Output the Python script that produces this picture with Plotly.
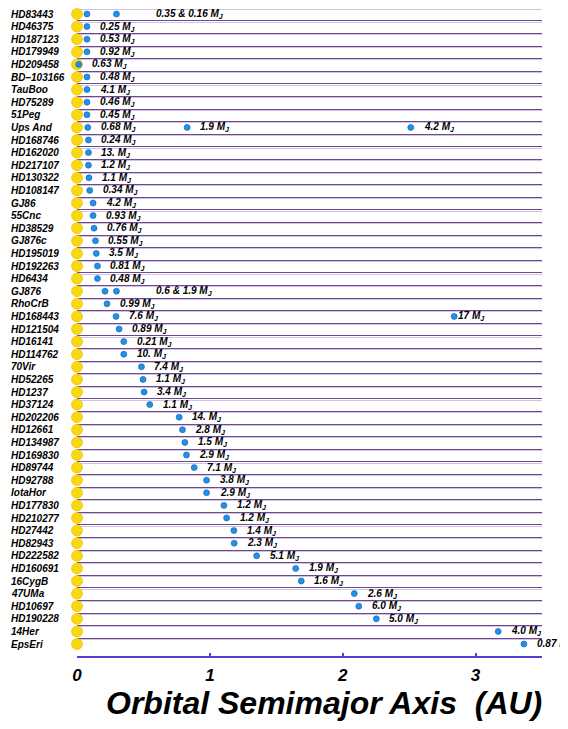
import plotly.graph_objects as go

# ---------------- data ----------------
stars = ["HD83443", "HD46375", "HD187123", "HD179949", "HD209458", "BD–103166",
         "TauBoo", "HD75289", "51Peg", "Ups And", "HD168746", "HD162020",
         "HD217107", "HD130322", "HD108147", "GJ86", "55Cnc", "HD38529",
         "GJ876c", "HD195019", "HD192263", "HD6434", "GJ876", "RhoCrB",
         "HD168443", "HD121504", "HD16141", "HD114762", "70Vir", "HD52265",
         "HD1237", "HD37124", "HD202206", "HD12661", "HD134987", "HD169830",
         "HD89744", "HD92788", "IotaHor", "HD177830", "HD210277", "HD27442",
         "HD82943", "HD222582", "HD160691", "16CygB", "47UMa", "HD10697",
         "HD190228", "14Her", "EpsEri"]

# orbital semimajor axis (AU) of each planet, per star
semimajor_axes = [
    [0.075, 0.297], [0.075], [0.075], [0.075], [0.013], [0.075],
    [0.075], [0.075], [0.075], [0.081, 0.829, 2.512], [0.086], [0.086],
    [0.086], [0.090], [0.096], [0.121], [0.121], [0.128],
    [0.139], [0.145], [0.154], [0.154], [0.211, 0.297], [0.226],
    [0.294, 2.839], [0.317], [0.352], [0.352], [0.485], [0.497],
    [0.505], [0.548], [0.769], [0.794], [0.812], [0.824],
    [0.882], [0.975], [0.975], [1.106], [1.126], [1.181],
    [1.183], [1.352], [1.646], [1.688], [2.087], [2.121],
    [2.253], [3.170], [3.364]]

# planet masses (Jupiter masses), as printed
mass_labels = [
    ["0.35 &amp; 0.16"], ["0.25"], ["0.53"], ["0.92"], ["0.63"], ["0.48"],
    ["4.1"], ["0.46"], ["0.45"], ["0.68", "1.9", "4.2"], ["0.24"], ["13."],
    ["1.2"], ["1.1"], ["0.34"], ["4.2"], ["0.93"], ["0.76"],
    ["0.55"], ["3.5"], ["0.81"], ["0.48"], ["0.6 &amp; 1.9"], ["0.99"],
    ["7.6", "17"], ["0.89"], ["0.21"], ["10."], ["7.4"], ["1.1"],
    ["3.4"], ["1.1"], ["14."], ["2.8"], ["1.5"], ["2.9"],
    ["7.1"], ["3.8"], ["2.9"], ["1.2"], ["1.2"], ["1.4"],
    ["2.3"], ["5.1"], ["1.9"], ["1.6"], ["2.6"], ["6.0"],
    ["5.0"], ["4.0"], ["0.87"]]

x_ticks = [0, 1, 2, 3]

# ---------------- figure ----------------
FONT = "Liberation Sans, Arial, sans-serif"
rows = list(range(len(stars)))

fig = go.Figure()

# star (sun) markers at a = 0
fig.add_trace(go.Scatter(
    x=[0] * len(stars), y=rows, mode="markers", cliponaxis=False,
    marker=dict(size=11, color="#f8d90f", line=dict(color="#e9b400", width=0.6)),
    hoverinfo="skip", showlegend=False))

# planets
px, py = [], []
for i, arr in enumerate(semimajor_axes):
    for a in arr:
        px.append(a)
        py.append(i)
fig.add_trace(go.Scatter(
    x=px, y=py, mode="markers", cliponaxis=False,
    marker=dict(size=6, color="#2390e6", line=dict(color="#0c5fb4", width=0.6)),
    showlegend=False))

annotations = []
# star names
for i, name in enumerate(stars):
    annotations.append(dict(
        x=0, xref="paper", xanchor="left", xshift=-68,
        y=i, yref="y", yanchor="middle", text=name, showarrow=False,
        font=dict(family=FONT, size=10, color="black", weight="bold", style="italic")))

# mass labels
for i, (arr, labs) in enumerate(zip(semimajor_axes, mass_labels)):
    if len(labs) < len(arr):
        pairs = [(arr[-1], labs[0], 38)]
    else:
        pairs = []
        for k, (a, lab) in enumerate(zip(arr, labs)):
            gap = 11
            if stars[i] == "HD168443" and k == 1:
                gap = 2
            pairs.append((a, lab, gap))
    for a, lab, gap in pairs:
        annotations.append(dict(
            x=a, xref="x", xanchor="left", xshift=gap,
            y=i, yref="y", yanchor="middle",
            text=lab + " M<sub>J</sub>", showarrow=False,
            font=dict(family=FONT, size=10, color="black", weight="bold", style="italic")))

# axis title
annotations.append(dict(
    x=1, xref="paper", xanchor="right", xshift=2,
    y=0, yref="paper", yanchor="middle", yshift=-47,
    text="Orbital Semimajor Axis&nbsp; (AU)", showarrow=False,
    font=dict(family=FONT, size=32, color="black", weight="bold", style="italic")))

W, H = 560, 721          # page has an 8px body margin
row_px = 12.6
top_px, bot_px = 0, 648
first_px = 6
ylo = (top_px - first_px) / row_px
yhi = ylo + (bot_px - top_px) / row_px

grid_vals = [k - 0.45 for k in range(len(stars))]

fig.update_layout(
    width=W, height=H,
    margin=dict(l=69, r=26, t=top_px, b=H - bot_px, pad=0),
    paper_bgcolor="white", plot_bgcolor="white",
    annotations=annotations,
    xaxis=dict(range=[0, 3.5], tickvals=x_ticks, ticktext=[str(v) for v in x_ticks],
               showgrid=False, zeroline=False, showline=True,
               linecolor="#5a3ccf", linewidth=2, ticks="inside", ticklen=3,
               tickcolor="#5a3ccf", tickwidth=1.5, ticklabelstandoff=3,
               tickfont=dict(family=FONT, size=17, color="black", weight="bold", style="italic"),
               fixedrange=True),
    yaxis=dict(range=[yhi, ylo], tickvals=grid_vals, showticklabels=False,
               showgrid=True, gridcolor="#6a4990", gridwidth=1.3,
               zeroline=False, showline=False, ticks="",
               minor=dict(tickvals=[v + 0.1 for v in grid_vals], showgrid=True,
                          gridcolor="#d2c3e4", gridwidth=1.2, ticks=""),
               fixedrange=True),
    hovermode=False,
)

fig.write_html("out.html")
